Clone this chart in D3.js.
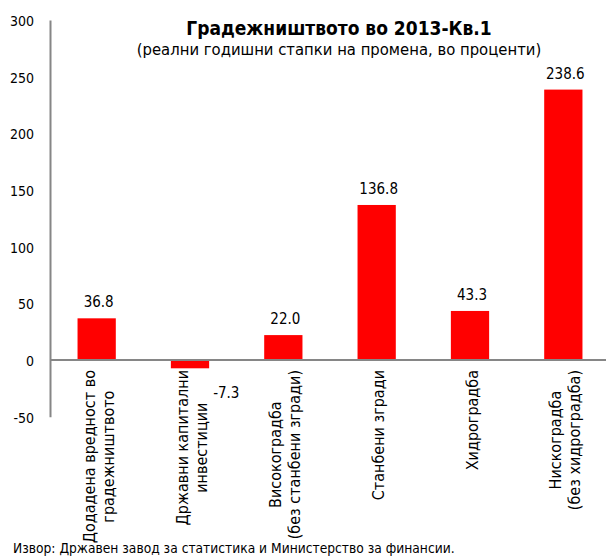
<!DOCTYPE html>
<html>
<head>
<meta charset="utf-8">
<script src="https://cdn.jsdelivr.net/npm/d3@7"></script>
<style>
  html, body { margin: 0; padding: 0; background: #fff; }
  svg { display: block; font-family: "DejaVu Sans Condensed", "DejaVu Sans", sans-serif; font-stretch: condensed; }
</style>
</head>
<body>
<svg id="chart" width="606" height="558"></svg>
<script>
// Construction activity, real annual growth rates (%)
const categories = [
  "Додадена вредност во градежништвото",
  "Државни капитални инвестиции",
  "Високоградба (без станбени згради)",
  "Станбени згради",
  "Хидроградба",
  "Нискоградба (без хидроградба)"
];
const categoryLines = [
  ["Додадена вредност во", "градежништвото"],
  ["Државни капитални", "инвестиции"],
  ["Високоградба", "(без станбени згради)"],
  ["Станбени згради"],
  ["Хидроградба"],
  ["Нискоградба", "(без хидроградба)"]
];
const values = [36.8, -7.3, 22.0, 136.8, 43.3, 238.6];
const yTicks = [-50, 0, 50, 100, 150, 200, 250, 300];

const titleText = "Градежништвото во 2013-Кв.1";
const subtitleText = "(реални годишни стапки на промена, во проценти)";
const sourceText = "Извор: Државен завод за статистика и Министерство за финансии.";

const svg = d3.select("#chart");
const axisColor = "#868686";
// plain hyphen for negatives
const fmtTick = d => String(d);
const fmtValue = d => d.toFixed(1);

const x = d3.scaleBand()
  .domain(categories)
  .range([50, 610])
  .paddingInner(0.59)
  .paddingOuter(0.295);

const y = d3.scaleLinear()
  .domain([-50, 300])
  .range([416.7, 20]);

// Value axis
const yAxis = svg.append("g")
  .attr("transform", "translate(50,0)")
  .call(d3.axisLeft(y).tickValues(yTicks).tickSize(0).tickPadding(16).tickFormat(fmtTick));
yAxis.select(".domain").attr("stroke", axisColor).attr("stroke-width", 2);
yAxis.selectAll("text")
  .attr("fill", "#000")
  .style("font-size", "14px")
  .attr("dy", "0.4em");
yAxis.attr("font-family", null).attr("font-size", null);

// Bars
svg.append("g").selectAll("rect")
  .data(values)
  .join("rect")
  .attr("x", (d, i) => x(categories[i]))
  .attr("width", x.bandwidth())
  .attr("y", d => y(Math.max(0, d)))
  .attr("height", d => Math.abs(y(d) - y(0)))
  .attr("fill", "#ff0000");

// Zero line
svg.append("line")
  .attr("x1", 50).attr("x2", 606)
  .attr("y1", y(0)).attr("y2", y(0))
  .attr("stroke", axisColor).attr("stroke-width", 2);

// Value labels
svg.append("g").selectAll("text")
  .data(values)
  .join("text")
  .attr("x", (d, i) => d >= 0 ? x(categories[i]) + x.bandwidth() / 2 + 2 : x(categories[i]) + x.bandwidth() + 4)
  .attr("y", d => d >= 0 ? y(d) - 11 : y(d) + 30)
  .attr("text-anchor", d => d >= 0 ? "middle" : "start")
  .style("font-size", "15px")
  .text(fmtValue);

// Category labels, rotated, lines centred on each other and hanging from the zero line
const catG = svg.append("g").selectAll("g")
  .data(categoryLines)
  .join("g");
catG.each(function(lines, i) {
  const g = d3.select(this);
  const cx = x(categories[i]) + x.bandwidth() / 2 + 2;
  const spacing = 19;
  const texts = lines.map(line => g.append("text")
    .attr("text-anchor", "middle")
    .attr("dominant-baseline", "central")
    .style("font-size", "16px")
    .text(line));
  const maxLen = d3.max(texts, t => t.node().getComputedTextLength());
  const yc = 370 + maxLen / 2;
  texts.forEach((t, j) => {
    const lx = cx + (j - (lines.length - 1) / 2) * spacing;
    t.attr("transform", `translate(${lx},${yc}) rotate(-90)`);
  });
});

// Titles
svg.append("text")
  .attr("x", 339).attr("y", 35)
  .attr("text-anchor", "middle")
  .style("font-size", "19px").style("font-weight", "bold")
  .text(titleText);
svg.append("text")
  .attr("x", 339).attr("y", 55)
  .attr("text-anchor", "middle")
  .style("font-size", "16.5px")
  .text(subtitleText);

// Source note
svg.append("text")
  .attr("x", 13).attr("y", 553)
  .style("font-size", "13.7px")
  .text(sourceText);
</script>
</body>
</html>
